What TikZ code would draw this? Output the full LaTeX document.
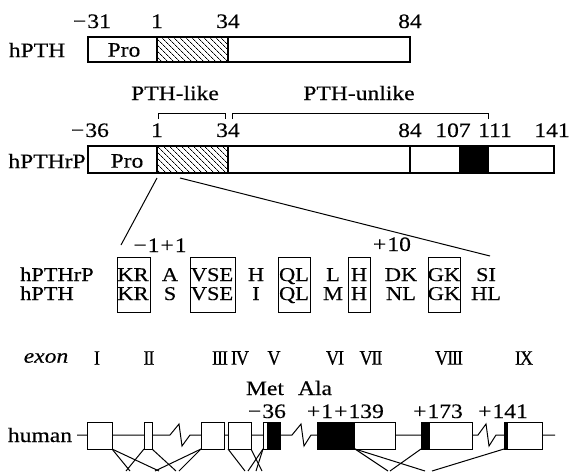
\documentclass[tikz,border=0pt]{standalone}
\usepackage{fontspec}
\setmainfont{Liberation Serif}[FakeStretch=1.15, FakeBold=0.3]
\newfontfamily\romanfont{Liberation Serif}[FakeStretch=0.9, LetterSpace=-6, FakeBold=0.3]
\usetikzlibrary{patterns.meta}

\begin{document}
\begin{tikzpicture}[x=1pt, y=-1pt,
  lbl/.style={font=\fontsize{20.5}{21}\selectfont, inner sep=0pt},
  num/.style={lbl, anchor=base},
  seq/.style={font=\fontsize{19.5}{20}\selectfont, inner sep=0pt, anchor=base},
  rnum/.style={lbl, font=\fontsize{20.5}{21}\romanfont},
  bar/.style={draw, line width=1.1pt},
  hatched/.style={bar, pattern={Lines[angle=-45, distance=4pt, line width=0.7pt]}},
  solid/.style={bar, fill=black},
  bracket/.style={draw, line width=0.9pt},
  seqbox/.style={draw, line width=1pt},
  zoomline/.style={draw, line width=1pt},
  exonbox/.style={draw, fill=white, line width=1pt},
  splice/.style={draw, line width=1pt},
  backbone/.style={draw, line width=1pt}
]
\useasboundingbox (0,0) rectangle (569,471);

% hPTH precursor
\node[lbl] (pthname) at (37,50) {hPTH};
\draw[bar] (88,37) rectangle (157,62);
\draw[hatched] (157,37) rectangle (228,62);
\draw[bar] (228,37) rectangle (410,62);
\node[lbl] (pro1) at (124,50) {Pro};
\node[num] (a31) at (92,28) {−\kern1pt 31};
\node[num] (a1) at (157,28) {1};
\node[num] (a34) at (228,28) {34};
\node[num] (a84) at (410,28) {84};

% like / unlike brackets
\node[lbl] (like) at (175,93) {PTH-like};
\node[lbl] (unlike) at (359,93) {PTH-unlike};
\draw[bracket] (158,119) -- (158,113) -- (225,113) -- (225,119);
\draw[bracket] (232,119) -- (232,113) -- (488,113) -- (488,119);

% hPTHrP precursor
\node[lbl] (rpname) at (47,161) {hPTHrP};
\draw[bar] (88,146) rectangle (157,173);
\draw[hatched] (157,146) rectangle (228,173);
\draw[bar] (228,146) rectangle (410,173);
\draw[bar] (410,146) rectangle (460,173);
\draw[solid] (460,146) rectangle (488,173);
\draw[bar] (488,146) rectangle (554,173);
\node[lbl] (pro2) at (127,161) {Pro};
\node[num] (b36) at (90,137) {−\kern1pt 36};
\node[num] (b1) at (157,137) {1};
\node[num] (b34) at (228,137) {34};
\node[num] (b84) at (410,137) {84};
\node[num] (b107) at (453,137) {107};
\node[num] (b111) at (495,137) {111};
\node[num] (b141) at (552,137) {141};

% zoom into 1-34
\coordinate (zl) at (157,178);
\coordinate (zr) at (180,178);
\coordinate (sl) at (121,245);
\coordinate (sr) at (490,256);
\draw[zoomline] (zl) -- (sl);
\draw[zoomline] (zr) -- (sr);

% sequence comparison
\node[num] (m1) at (160,252) {−\kern1pt 1\kern1pt +\kern1pt 1};
\node[num] (p10) at (392,251) {+\kern1pt 10};
\node[seq, anchor=base west] (rowa) at (20,281) {hPTHrP};
\node[seq, anchor=base west] (rowb) at (20,300) {hPTH};
\foreach \x/\ra/\rb in {133/KR/KR, 170/A/S, 212/VSE/VSE, 256/H/I, 294/QL/QL,
                        333/L/M, 359/H/H, 401/DK/NL, 444/GK/GK, 486/SI/HL}{
  \node[seq] at (\x,281) {\ra};
  \node[seq] at (\x,300) {\rb};
}
\foreach \l/\r in {117/150, 190/235, 278/310, 348/370, 428/460}
  \draw[seqbox] (\l,257) rectangle (\r,312);

% exon numbering
\node[lbl, font=\fontsize{20.5}{21}\selectfont\itshape] (exon) at (46,358) {exon};
\foreach \x/\n in {97/I, 149/II, 220/III, 240/IV, 274/V, 335/VI, 371/VII, 449/VIII, 524/IX}
  \node[rnum] at (\x,358) {\n};
\node[num] (met) at (265,395) {Met};
\node[num] (ala) at (315,395) {Ala};
\node[num] (c36) at (267,418) {−\kern1pt 36};
\node[num] (c1) at (320,418) {+\kern1pt 1};
\node[num] (c139) at (359,418) {+\kern1pt 139};
\node[num] (c173) at (438,418) {+\kern1pt 173};
\node[num] (c141) at (503,418) {+\kern1pt 141};

% human gene
\node[lbl] (human) at (40,435) {human};
\draw[backbone] (77,435) -- (170,435) -- (179,424) -- (182,446) -- (190,435)
  -- (292,435) -- (301,424) -- (304,446) -- (311,435)
  -- (478,435) -- (486,424) -- (489,446) -- (496,435) -- (555,435);
\draw[exonbox] (87,422) rectangle (112,449);
\draw[exonbox] (144,422) rectangle (152,449);
\draw[exonbox] (201,422) rectangle (224,449);
\draw[exonbox] (228,422) rectangle (251,449);
\draw[exonbox] (263,422) rectangle (280,449);
\fill (267,422) rectangle (280,449);
\draw[exonbox] (317,422) rectangle (395,449);
\fill (317,422) rectangle (355,449);
\draw[exonbox] (421,422) rectangle (472,449);
\fill (421,422) rectangle (430,449);
\draw[exonbox] (504,422) rectangle (542,449);
\fill (504,422) rectangle (508,449);

% splicing
\foreach \a/\b in {112/130, 112/159, 144/126, 152/176, 201/155, 201/179,
                   228/245, 251/262, 263/248, 263/256,
                   355/388, 355/425, 421/390, 504/432}
  \draw[splice] (\a,449) -- (\b,471);

\end{tikzpicture}
\end{document}
